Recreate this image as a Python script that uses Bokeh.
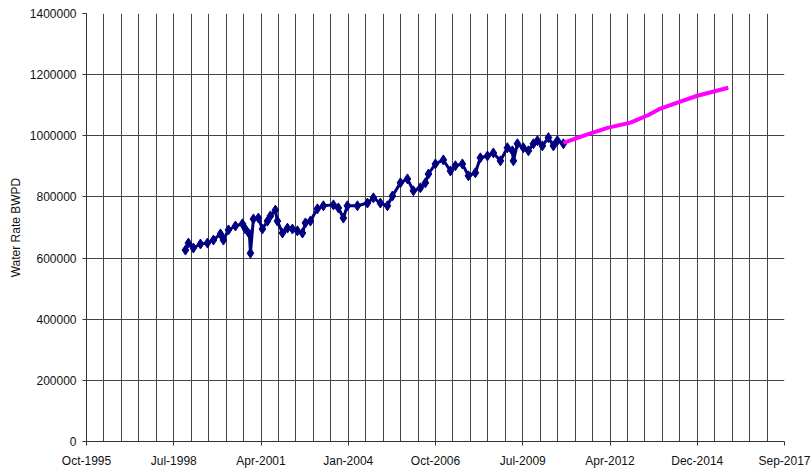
import pandas as pd
from bokeh.plotting import figure
from bokeh.models import Range1d, FixedTicker, DatetimeTickFormatter, BasicTickFormatter
from bokeh.embed import file_html
from bokeh.resources import INLINE

# Measured water rate (BWPD)
blue_dates = [
    "1998-12-05", "1999-01-08", "1999-03-06", "1999-05-26", "1999-08-14", "1999-10-22",
    "2000-01-10", "2000-02-13", "2000-04-11", "2000-06-30", "2000-09-18", "2000-10-22",
    "2000-12-07", "2000-12-19", "2001-01-22", "2001-03-20", "2001-05-05", "2001-07-02",
    "2001-08-05", "2001-10-01", "2001-10-24", "2001-12-21", "2002-02-16", "2002-04-14",
    "2002-06-10", "2002-08-07", "2002-09-10", "2002-11-06", "2003-01-25", "2003-04-04",
    "2003-07-28", "2003-09-23", "2003-11-19", "2004-01-04", "2004-04-28", "2004-08-21",
    "2004-10-28", "2005-01-16", "2005-04-07", "2005-06-03", "2005-09-03", "2005-11-22",
    "2006-01-30", "2006-04-20", "2006-06-16", "2006-07-21", "2006-10-09", "2007-01-08",
    "2007-03-30", "2007-05-26", "2007-08-14", "2007-10-22", "2008-01-10", "2008-03-07",
    "2008-05-27", "2008-08-03", "2008-10-23", "2009-01-11", "2009-03-09", "2009-03-21",
    "2009-05-06", "2009-07-13", "2009-09-09", "2009-11-05", "2009-12-21", "2010-02-16",
    "2010-04-26", "2010-06-22", "2010-08-07", "2010-10-15",
]
blue_values = [
    626000, 649000, 633000, 646000, 649000, 659000,
    679000, 659000, 692000, 705000, 712000, 695000,
    679000, 616000, 728000, 731000, 695000, 721000,
    738000, 757000, 721000, 682000, 698000, 695000,
    689000, 682000, 715000, 721000, 761000, 771000,
    774000, 764000, 731000, 771000, 771000, 780000,
    797000, 780000, 771000, 803000, 846000, 859000,
    820000, 830000, 846000, 875000, 908000, 921000,
    885000, 902000, 908000, 869000, 879000, 928000,
    934000, 944000, 918000, 961000, 951000, 918000,
    974000, 961000, 951000, 974000, 984000, 967000,
    994000, 967000, 984000, 974000,
]

# Forecast water rate (BWPD)
forecast_dates = ["2010-10-15", "2011-07-01", "2012-03-03", "2012-11-22",
                  "2013-06-15", "2013-10-31", "2014-06-15", "2014-12-28", "2015-12-18"]
forecast_values = [977000, 1003000, 1026000, 1043000,
                   1068000, 1089000, 1112000, 1131000, 1157000]

# Axis ticks (Excel date-axis: major every 1000 days, minor every 200 days)
x_start = pd.Timestamp("1995-10-28")
major_days = list(range(0, 8001, 1000))
minor_days = list(range(0, 8001, 200))
y_ticks = list(range(0, 1400001, 200000))


def ms(ts):
    return ts.value / 1e6


major_ticks = [ms(x_start + pd.Timedelta(days=d)) for d in major_days]
minor_ticks = [ms(x_start + pd.Timedelta(days=d)) for d in minor_days]

p = figure(width=812, height=470, output_backend="svg", toolbar_location=None,
           x_axis_type="datetime",
           x_range=Range1d(start=major_ticks[0], end=major_ticks[-1]),
           y_range=Range1d(0, 1400000),
           min_border_left=86, min_border_right=28, min_border_top=13, min_border_bottom=20)
p.outline_line_color = None
p.background_fill_color = "white"
p.border_fill_color = "white"

font = "Liberation Sans"

p.xaxis.ticker = FixedTicker(ticks=major_ticks, minor_ticks=minor_ticks)
p.xaxis.formatter = DatetimeTickFormatter(days="%b-%Y", months="%b-%Y", years="%b-%Y",
                                          hours="%b-%Y", minutes="%b-%Y")
p.yaxis.ticker = FixedTicker(ticks=y_ticks)
p.yaxis.formatter = BasicTickFormatter(use_scientific=False)

for ax in (p.xaxis[0], p.yaxis[0]):
    ax.major_label_text_font = font
    ax.major_label_text_font_size = "12px"
    ax.major_label_text_color = "#111111"
    ax.axis_line_color = "#333333"
    ax.major_tick_line_color = "#333333"
    ax.major_tick_out = 4
    ax.major_tick_in = 0
    ax.minor_tick_line_color = None

p.xaxis.major_label_standoff = 8
p.yaxis.major_label_standoff = 6
p.yaxis.axis_label = "Water Rate BWPD"
p.yaxis.axis_label_text_font = font
p.yaxis.axis_label_text_font_size = "12px"
p.yaxis.axis_label_text_font_style = "normal"
p.yaxis.axis_label_text_color = "#111111"
p.yaxis.axis_label_standoff = 4

p.xgrid.grid_line_color = "#444444"
p.xgrid.grid_line_width = 1
p.xgrid.minor_grid_line_color = "#444444"
p.xgrid.minor_grid_line_width = 1
p.ygrid.grid_line_color = "#444444"
p.ygrid.grid_line_width = 1

bx = pd.to_datetime(blue_dates)
fx = pd.to_datetime(forecast_dates)

p.line(bx, blue_values, line_color="#000080", line_width=3)
p.scatter(bx, blue_values, marker="diamond", size=10, fill_color="#000080",
          line_color="#000080")
p.line(fx, forecast_values, line_color="#FF00FF", line_width=4)

open("out.html", "w").write(file_html(p, INLINE))
